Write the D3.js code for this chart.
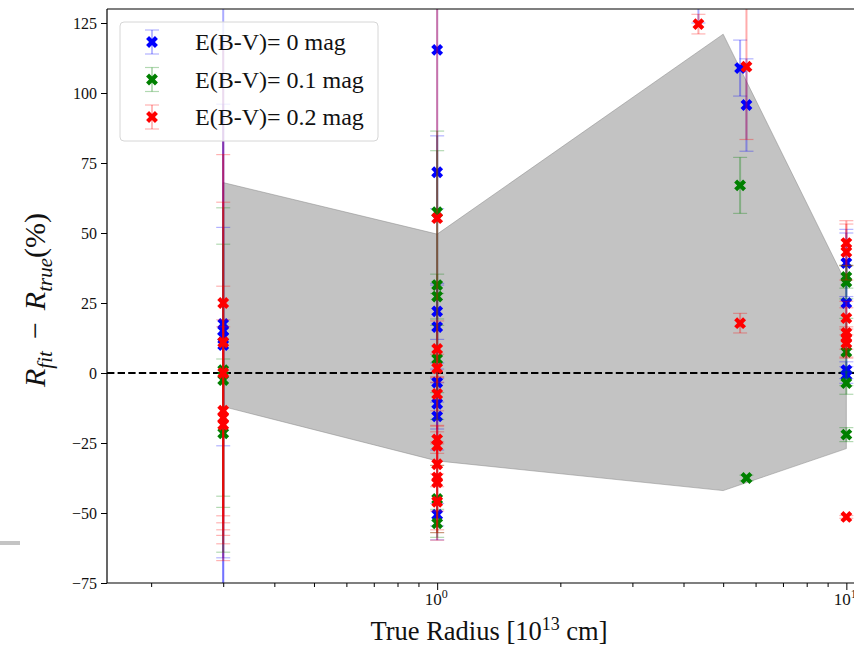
<!DOCTYPE html>
<html>
<head>
<meta charset="utf-8">
<script src="https://cdn.jsdelivr.net/npm/d3@7"></script>
<style>
  body { margin: 0; background: #fff; }
  svg { display: block; }
  text { font-family: "Liberation Serif", "DejaVu Serif", serif; fill: #111; }
</style>
</head>
<body>
<svg id="chart"></svg>
<script>
// Radius (1e13 cm), deviation (%) and error (%) for each reddening value
const blueR   = [0.3, 0.3, 0.3, 0.3, 1, 1, 1, 1, 1, 1, 1, 1, 4.35, 5.5, 5.7, 10, 10, 10, 10];
const blueDev = [17.5, 15, 13, 10, 115.4, 71.7, 22, 16.4, -3.4, -11, -15.5, -50.6, 137, 108.9, 95.7, 39.3, 25, 1, -0.7];
const blueErr = [102, 81, 39, 130, 175, 13, 10, 15, 7, 9, 12, 4, 12, 10, 16.5, 12, 25, 3, 3];

const greenR   = [0.3, 0.3, 0.3, 1, 1, 1, 1, 1, 1, 5.5, 5.7, 10, 10, 10, 10, 10];
const greenDev = [1, -2.5, -21.5, 57.4, 31.4, 27.3, 5, -45, -53.7, 67, -37.5, 34.3, 32.5, 7.5, -3.6, -22];
const greenErr = [45, 61.5, 26.5, 29, 48, 8, 12, 12, 5, 10, 1, 4, 6, 12, 4, 2.5];

const redR   = [0.3, 0.3, 0.3, 0.3, 0.3, 0.3, 1, 1, 1, 1, 1, 1, 1, 1, 1, 1, 4.35, 5.7, 5.5, 10, 10, 10, 10, 10, 10, 10];
const redDev = [25, 11, 0, -13.5, -16, -18.5, 55.3, 8.6, 1.7, -7.5, -23.7, -26, -32.6, -37.3, -39, -46, 124.6, 109.4, 17.8, 46.4, 43.2, 19.6, 14.3, 12.5, 10.7, -51.4];
const redErr = [92, 67, 61, 44.5, 35, 35, 115, 10, 5, 6, 5, 7, 8, 12, 18, 10, 3.5, 26, 3.5, 8, 10, 6, 9, 4, 5, 0.5];

// Shaded band
const bandR = [0.3, 1, 5, 10];
const bandUpper = [68, 49.6, 121, 32];
const bandLower = [-12, -31.4, -42, -27];

const yTicks = [-75, -50, -25, 0, 25, 50, 75, 100, 125];
const xMajor = [1, 10];
const xMinor = [0.2, 0.3, 0.4, 0.5, 0.6, 0.7, 0.8, 0.9, 2, 3, 4, 5, 6, 7, 8, 9];

const WIDTH = 854, HEIGHT = 645;
const plot = { left: 107, right: 886, top: 9, bottom: 583 };

const svg = d3.select('#chart').attr('width', WIDTH).attr('height', HEIGHT);

const x = d3.scaleLog().domain([0.156, 12.5]).range([plot.left, plot.right]);
const y = d3.scaleLinear().domain([-75, 130]).range([plot.bottom, plot.top]);

svg.append('defs').append('clipPath').attr('id', 'clip')
  .append('rect')
  .attr('x', plot.left).attr('y', plot.top)
  .attr('width', plot.right - plot.left).attr('height', plot.bottom - plot.top);

const series = [
  { label: 'E(B-V)= 0 mag', color: '#0000ff', r: blueR, dev: blueDev, err: blueErr },
  { label: 'E(B-V)= 0.1 mag', color: '#008000', r: greenR, dev: greenDev, err: greenErr },
  { label: 'E(B-V)= 0.2 mag', color: '#ff0000', r: redR, dev: redDev, err: redErr }
];

const body = svg.append('g').attr('clip-path', 'url(#clip)');

// Band
const band = bandR.map((r, i) => ({ r, hi: bandUpper[i], lo: bandLower[i] }));
body.append('path')
  .datum(band)
  .attr('d', d3.area().x(d => x(d.r)).y0(d => y(d.lo)).y1(d => y(d.hi)))
  .attr('fill', '#888')
  .attr('fill-opacity', 0.5)
  .attr('stroke', '#888')
  .attr('stroke-opacity', 0.5)
  .attr('stroke-width', 1);

// Zero line
body.append('line')
  .attr('x1', plot.left).attr('x2', plot.right)
  .attr('y1', y(0)).attr('y2', y(0))
  .attr('stroke', '#000').attr('stroke-width', 2)
  .attr('stroke-dasharray', '7.4,3.2');

const marker = d3.symbol().type(d3.symbolCross).size(88);
const CAP = 7;

series.forEach(s => {
  const pts = s.r.map((r, i) => ({ r, v: s.dev[i], e: s.err[i] }));
  const g = body.append('g');
  g.selectAll('.bar').data(pts).enter().append('line')
    .attr('x1', d => x(d.r)).attr('x2', d => x(d.r))
    .attr('y1', d => y(d.v - d.e)).attr('y2', d => y(d.v + d.e))
    .attr('stroke', s.color).attr('stroke-opacity', 0.33).attr('stroke-width', 2);
  [-1, 1].forEach(sign => {
    g.selectAll('.cap' + sign).data(pts).enter().append('line')
      .attr('x1', d => x(d.r) - CAP).attr('x2', d => x(d.r) + CAP)
      .attr('y1', d => y(d.v + sign * d.e)).attr('y2', d => y(d.v + sign * d.e))
      .attr('stroke', s.color).attr('stroke-opacity', 0.3).attr('stroke-width', 1.2);
  });
  g.selectAll('.pt').data(pts).enter().append('path')
    .attr('d', marker)
    .attr('transform', d => `translate(${x(d.r)},${y(d.v)}) rotate(45)`)
    .attr('fill', s.color);
});

// Y axis
const yAxis = svg.append('g')
  .attr('transform', `translate(${plot.left},0)`)
  .call(d3.axisLeft(y).tickValues(yTicks).tickSize(6).tickPadding(4));
yAxis.select('.domain').remove();
yAxis.selectAll('text').style('font-size', '16px').style('font-family', '"Liberation Serif", serif');

// X axis (major + minor)
const xAxis = svg.append('g')
  .attr('transform', `translate(0,${plot.bottom})`)
  .call(d3.axisBottom(x).tickValues(xMajor).tickSize(7).tickFormat(''));
xAxis.select('.domain').remove();
const xMinorAxis = svg.append('g')
  .attr('transform', `translate(0,${plot.bottom})`)
  .call(d3.axisBottom(x).tickValues(xMinor).tickSize(4).tickFormat(''));
xMinorAxis.select('.domain').remove();

xMajor.forEach(v => {
  const t = svg.append('text')
    .attr('x', x(v) - 1).attr('y', 605)
    .attr('text-anchor', 'middle')
    .style('font-size', '17px');
  t.append('tspan').text('10');
  t.append('tspan').attr('dy', -7).style('font-size', '12px').text(Math.round(Math.log10(v)));
});

// Spines
svg.append('line').attr('x1', plot.left).attr('x2', plot.left).attr('y1', plot.top).attr('y2', plot.bottom)
  .attr('stroke', '#000').attr('stroke-width', 1.2);
svg.append('line').attr('x1', plot.left).attr('x2', plot.right).attr('y1', plot.top).attr('y2', plot.top)
  .attr('stroke', '#000').attr('stroke-width', 1.2);
svg.append('line').attr('x1', plot.left).attr('x2', plot.right).attr('y1', plot.bottom).attr('y2', plot.bottom)
  .attr('stroke', '#000').attr('stroke-width', 1.2);

// Axis labels
const xl = svg.append('text')
  .attr('x', 489).attr('y', 640)
  .attr('text-anchor', 'middle')
  .style('font-size', '26.5px');
xl.append('tspan').text('True Radius [10');
xl.append('tspan').attr('dy', -10).style('font-size', '18px').text('13');
xl.append('tspan').attr('dy', 10).text(' cm]');

const yl = svg.append('text')
  .attr('transform', 'translate(45,300) rotate(-90)')
  .attr('text-anchor', 'middle')
  .style('font-size', '30px');
yl.append('tspan').style('font-style', 'italic').text('R');
yl.append('tspan').attr('dy', 7).style('font-style', 'italic').style('font-size', '21px').text('fit');
yl.append('tspan').attr('dy', -7).text('\u2009\u2009\u2212\u2009\u2009');
yl.append('tspan').style('font-style', 'italic').text('R');
yl.append('tspan').attr('dy', 7).style('font-style', 'italic').style('font-size', '21px').text('true');
yl.append('tspan').attr('dy', -7).text('(%)');

// Legend
const legend = svg.append('g').attr('id', 'legend');
legend.append('rect')
  .attr('x', 120).attr('y', 22).attr('width', 258).attr('height', 119)
  .attr('rx', 4)
  .attr('fill', '#fff').attr('fill-opacity', 0.8)
  .attr('stroke', '#d6d6d6').attr('stroke-width', 1);

series.forEach((s, i) => {
  const cy = 42 + i * 37.5;
  const g = legend.append('g');
  g.append('line').attr('x1', 152).attr('x2', 152).attr('y1', cy - 12).attr('y2', cy + 12)
    .attr('stroke', s.color).attr('stroke-opacity', 0.3).attr('stroke-width', 1.8);
  [-12, 12].forEach(o => g.append('line')
    .attr('x1', 145).attr('x2', 159).attr('y1', cy + o).attr('y2', cy + o)
    .attr('stroke', s.color).attr('stroke-opacity', 0.3).attr('stroke-width', 1.2));
  g.append('path').attr('d', marker).attr('transform', `translate(152,${cy}) rotate(45)`).attr('fill', s.color);
  g.append('text').attr('x', 195).attr('y', cy + 8).style('font-size', '24px').text(s.label);
});

// Small grey mark at the left edge of the picture
svg.append('rect').attr('x', 0).attr('y', 541).attr('width', 20).attr('height', 4).attr('fill', '#c4c4c4');
</script>
</body>
</html>
